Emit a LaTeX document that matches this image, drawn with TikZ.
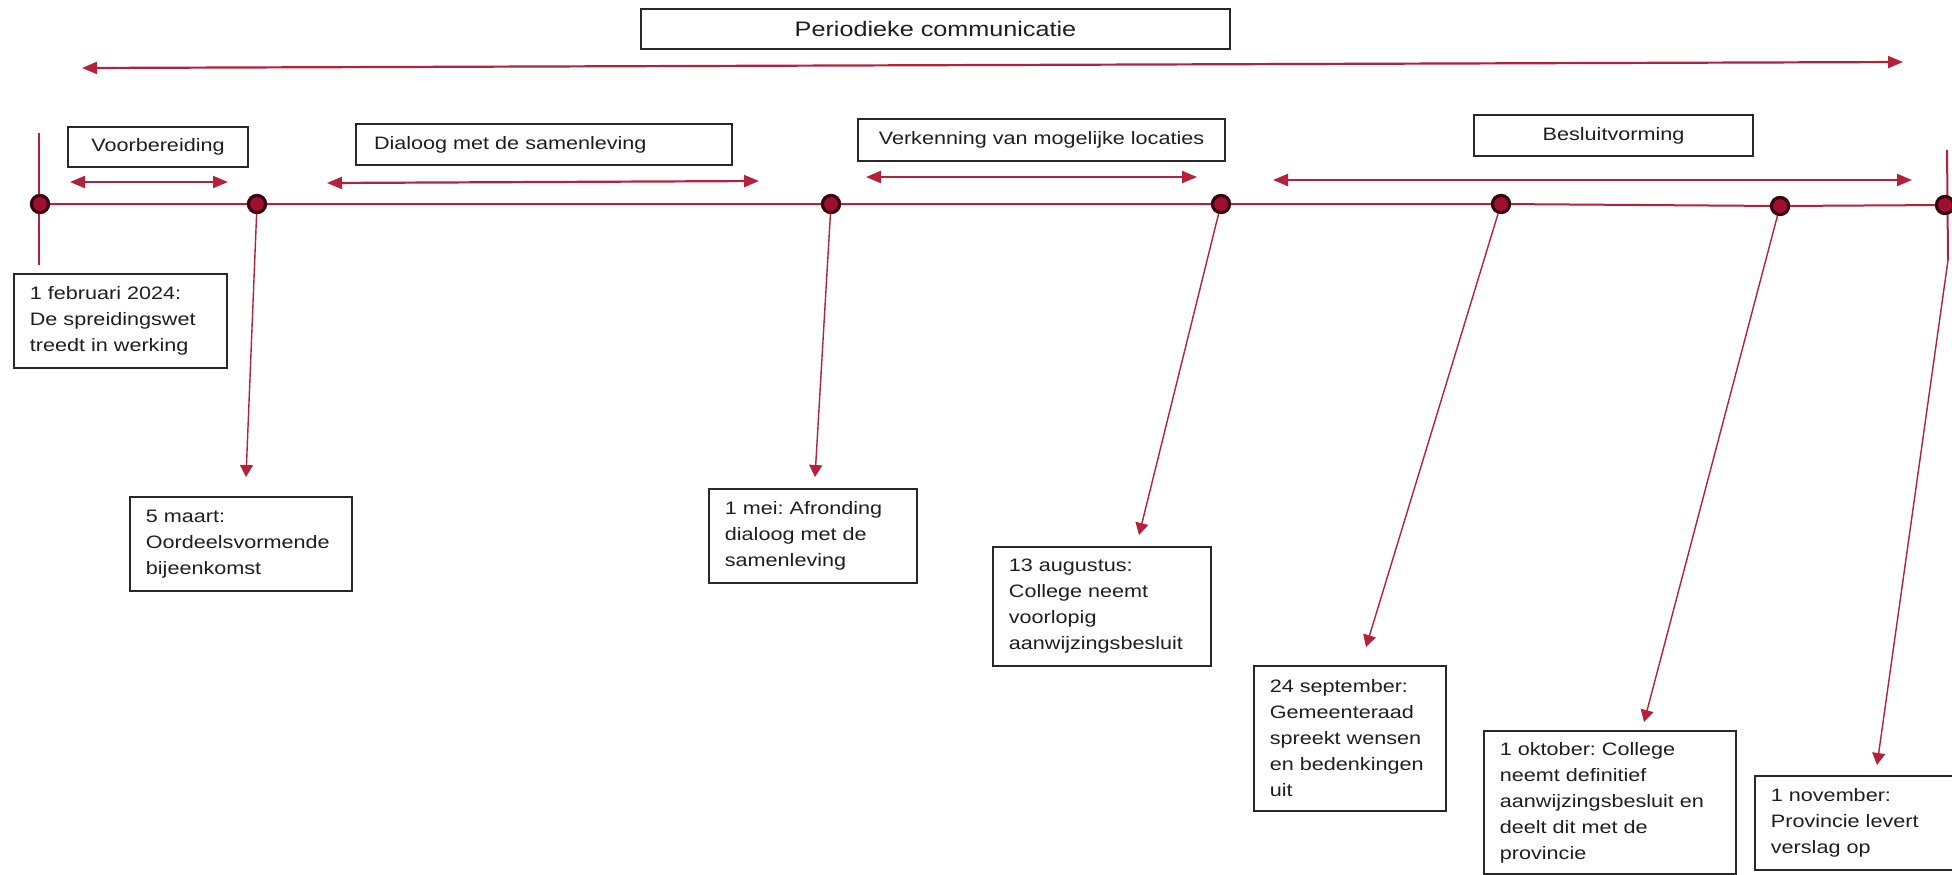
\documentclass[tikz,border=0pt]{standalone}
\usepackage{fontspec}
\setmainfont{Liberation Sans}[FakeStretch=1.2]
\usepackage{tikz}
\usetikzlibrary{arrows.meta,positioning}
\frenchspacing

\definecolor{linered}{RGB}{181,32,58}
\definecolor{dotred}{RGB}{160,16,46}
\definecolor{dotdark}{RGB}{55,5,14}
\definecolor{boxgray}{RGB}{40,40,40}
\definecolor{textblack}{RGB}{30,30,30}

\begin{document}
\begin{tikzpicture}[x=0.5pt,y=-0.5pt,font=\fontsize{9}{13}\selectfont,text=textblack]
       \tikzstyle{milestone}=[circle,fill=dotred,draw=dotdark,line width=1.6pt,minimum size=8.6pt,inner sep=0pt]
       \tikzstyle{timeline}=[draw=linered,line width=1pt]
       \tikzstyle{span}=[<->,color=linered,line width=1.1pt,>={Triangle[length=7.5pt,width=6pt]}]
       \tikzstyle{pointer}=[->,color=linered,line width=0.7pt,>={Triangle[length=6pt,width=6.5pt]}]
       \tikzstyle{phase}=[draw=boxgray,line width=0.9pt,inner sep=0pt]
       \tikzstyle{event}=[draw=boxgray,line width=0.9pt,anchor=north west,align=left,inner xsep=8pt,inner ysep=3pt]

       \useasboundingbox (0,0) rectangle (1952,874);

       % titel en fasen
       \node[phase,minimum width=294.5pt,minimum height=20pt,font=\fontsize{10.5}{13}\selectfont] (comm) at (935.5,29) {Periodieke communicatie};
       \node[phase,minimum width=90pt,minimum height=20pt]   (voor)   at (158,147)    {Voorbereiding};
       \node[phase,minimum height=20.5pt,text width=170pt,inner xsep=9pt,align=left] (dialoog) at (544,144.5) {Dialoog met de samenleving};
       \node[phase,minimum width=183.5pt,minimum height=21pt] (verk)  at (1041.5,140) {Verkenning van mogelijke locaties};
       \node[phase,minimum width=139.5pt,minimum height=20.5pt] (besl) at (1613.5,135.5) {Besluitvorming};

       \coordinate (comm_l) at (82,68);   \coordinate (comm_r) at (1903,62);
       \coordinate (voor_l) at (70,182);  \coordinate (voor_r) at (228,182);
       \coordinate (dial_l) at (327,183); \coordinate (dial_r) at (759,181);
       \coordinate (verk_l) at (866,177); \coordinate (verk_r) at (1197,177);
       \coordinate (besl_l) at (1273,180);\coordinate (besl_r) at (1912,180);

       \path[span] (comm_l) edge (comm_r)
                   (voor_l) edge (voor_r)
                   (dial_l) edge (dial_r)
                   (verk_l) edge (verk_r)
                   (besl_l) edge (besl_r);

       % tijdlijn
       \coordinate (s1_top) at (39,133);  \coordinate (s1_bot) at (39,265);
       \coordinate (s7_top) at (1947,150);\coordinate (s7_bot) at (1948,260);
       \draw[timeline] (s1_top) -- (s1_bot);
       \draw[timeline] (s7_top) -- (s7_bot);

       \node[milestone] (feb)  at (40,204)   {};
       \node[milestone] (mrt)  at (257,204)  {};
       \node[milestone] (mei)  at (831,204)  {};
       \node[milestone] (aug)  at (1221,204) {};
       \node[milestone] (sep)  at (1501,204) {};
       \node[milestone] (okt)  at (1780,206) {};
       \node[milestone] (nov)  at (1945,205) {};

       \draw[timeline] (feb) -- (mrt) -- (mei) -- (aug) -- (sep) -- (okt) -- (nov);

       % gebeurtenissen
       \node[event,minimum width=106.5pt,minimum height=47pt,text width=90.5pt] (feb_box) at (13,273)
            {1 februari 2024:\\De spreidingswet\\treedt in werking};
       \node[event,minimum width=111pt,minimum height=47pt,text width=95pt] (mrt_box) at (129,496)
            {5 maart:\\Oordeelsvormende\\bijeenkomst};
       \node[event,minimum width=104pt,minimum height=47pt,text width=88pt] (mei_box) at (708,488)
            {1 mei: Afronding\\dialoog met de\\samenleving};
       \node[event,minimum width=109pt,minimum height=59.5pt,text width=93pt] (aug_box) at (992,546)
            {13 augustus:\\College neemt\\voorlopig\\aanwijzingsbesluit};
       \node[event,minimum width=96pt,minimum height=72.5pt,text width=80pt] (sep_box) at (1253,665)
            {24 september:\\Gemeenteraad\\spreekt wensen\\en bedenkingen\\uit};
       \node[event,minimum width=126pt,minimum height=71.5pt,text width=110pt] (okt_box) at (1483,730)
            {1 oktober: College\\neemt definitief\\aanwijzingsbesluit en\\deelt dit met de\\provincie};
       \node[event,minimum width=110pt,minimum height=47pt,text width=94pt] (nov_box) at (1754,775)
            {1 november:\\Provincie levert\\verslag op};

       \coordinate (mrt_tip) at (246,477);
       \coordinate (mei_tip) at (815,477);
       \coordinate (aug_tip) at (1139,535);
       \coordinate (sep_tip) at (1366,647);
       \coordinate (okt_tip) at (1644,722);
       \coordinate (nov_tip) at (1877,765);

       \path[pointer]
       (mrt)    edge (mrt_tip)
       (mei)    edge (mei_tip)
       (aug)    edge (aug_tip)
       (sep)    edge (sep_tip)
       (okt)    edge (okt_tip)
       (s7_bot) edge (nov_tip);
     \end{tikzpicture}
\end{document}
